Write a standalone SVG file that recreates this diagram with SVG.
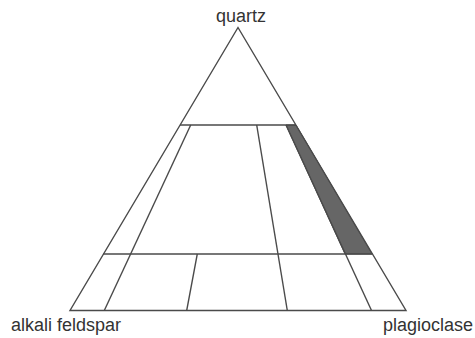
<svg xmlns="http://www.w3.org/2000/svg" width="475" height="338" viewBox="0 0 475 338">
<style>
.ln{fill:none;stroke:#4a4a4a;stroke-width:1.4;stroke-linejoin:miter}
.lbl{font-family:"Liberation Sans",Arial,sans-serif;font-size:18px;fill:#333}
</style>
<rect width="475" height="338" fill="#fff"/>
<polygon id="shaded" points="286,125 296,125 372,254 345,254" fill="#666" stroke="#4a4a4a" stroke-width="1"/>
<g id="grid">
<polygon class="ln" points="238,27.5 70,310.5 406,310.5"/>
<line class="ln" x1="180" y1="125" x2="296" y2="125"/>
<line class="ln" x1="103" y1="254" x2="372.5" y2="254"/>
<line class="ln" x1="190.7" y1="125" x2="104.3" y2="310.5"/>
<line class="ln" x1="256.7" y1="125" x2="287.3" y2="310.5"/>
<line class="ln" x1="286" y1="125" x2="371.5" y2="310.5"/>
<line class="ln" x1="197.3" y1="254" x2="186.7" y2="310.5"/>
</g>
<g id="labels">
<text class="lbl" x="241" y="22" text-anchor="middle">quartz</text>
<text class="lbl" x="11" y="331">alkali feldspar</text>
<text class="lbl" x="383" y="331">plagioclase</text>
</g>
</svg>
